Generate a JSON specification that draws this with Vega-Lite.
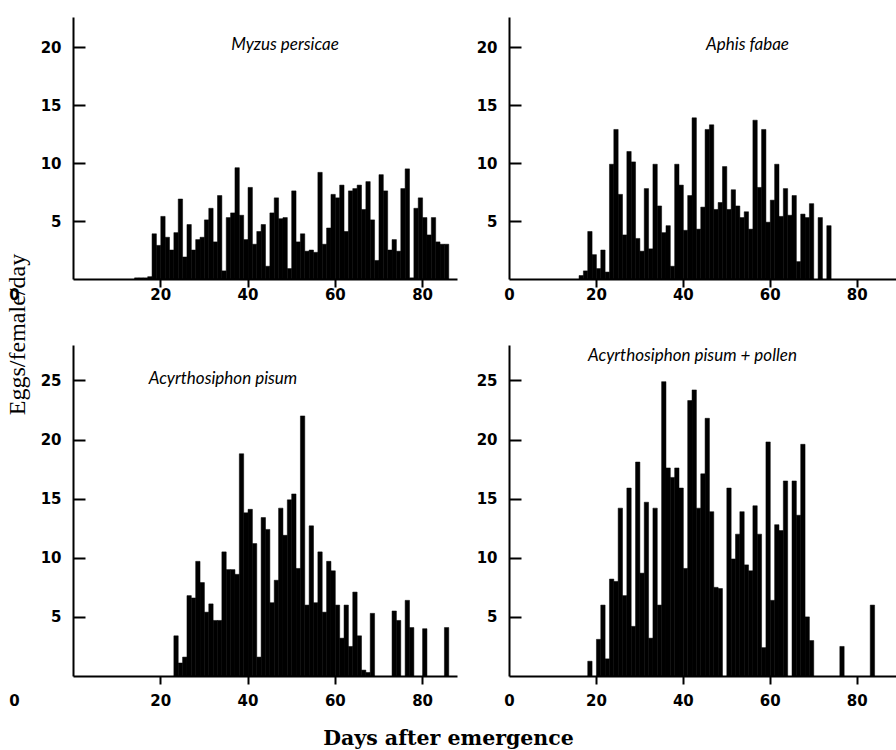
{
  "$schema": "https://vega.github.io/schema/vega-lite/v6.json",
  "padding": {"left": 5, "top": 17, "right": 0, "bottom": 0},
  "background": "white",
  "datasets": {
    "myzus": [
      {"day": 14, "eggs": 0.1}, {"day": 15, "eggs": 0.1}, {"day": 16, "eggs": 0.1}, {"day": 17, "eggs": 0.2},
      {"day": 18, "eggs": 3.9}, {"day": 19, "eggs": 2.9}, {"day": 20, "eggs": 5.4}, {"day": 21, "eggs": 3.6},
      {"day": 22, "eggs": 2.5}, {"day": 23, "eggs": 4.0}, {"day": 24, "eggs": 6.9}, {"day": 25, "eggs": 1.9},
      {"day": 26, "eggs": 4.7}, {"day": 27, "eggs": 2.5}, {"day": 28, "eggs": 3.4}, {"day": 29, "eggs": 3.6},
      {"day": 30, "eggs": 5.1}, {"day": 31, "eggs": 6.1}, {"day": 32, "eggs": 3.2}, {"day": 33, "eggs": 7.2},
      {"day": 34, "eggs": 0.7}, {"day": 35, "eggs": 5.3}, {"day": 36, "eggs": 5.7}, {"day": 37, "eggs": 9.6},
      {"day": 38, "eggs": 5.5}, {"day": 39, "eggs": 3.4}, {"day": 40, "eggs": 7.9}, {"day": 41, "eggs": 3.0},
      {"day": 42, "eggs": 4.1}, {"day": 43, "eggs": 4.7}, {"day": 44, "eggs": 1.1}, {"day": 45, "eggs": 5.7},
      {"day": 46, "eggs": 7.0}, {"day": 47, "eggs": 5.2}, {"day": 48, "eggs": 5.3}, {"day": 49, "eggs": 0.9},
      {"day": 50, "eggs": 7.6}, {"day": 51, "eggs": 3.2}, {"day": 52, "eggs": 3.9}, {"day": 53, "eggs": 2.4},
      {"day": 54, "eggs": 2.5}, {"day": 55, "eggs": 2.3}, {"day": 56, "eggs": 9.2}, {"day": 57, "eggs": 3.0},
      {"day": 58, "eggs": 4.4}, {"day": 59, "eggs": 7.3}, {"day": 60, "eggs": 7.0}, {"day": 61, "eggs": 8.1},
      {"day": 62, "eggs": 4.1}, {"day": 63, "eggs": 7.6}, {"day": 64, "eggs": 7.8}, {"day": 65, "eggs": 8.1},
      {"day": 66, "eggs": 6.0}, {"day": 67, "eggs": 8.4}, {"day": 68, "eggs": 5.1}, {"day": 69, "eggs": 1.6},
      {"day": 70, "eggs": 9.0}, {"day": 71, "eggs": 7.6}, {"day": 72, "eggs": 2.5}, {"day": 73, "eggs": 3.4},
      {"day": 74, "eggs": 2.4}, {"day": 75, "eggs": 7.8}, {"day": 76, "eggs": 9.5}, {"day": 77, "eggs": 0.1},
      {"day": 78, "eggs": 6.1}, {"day": 79, "eggs": 7.0}, {"day": 80, "eggs": 5.3}, {"day": 81, "eggs": 3.8},
      {"day": 82, "eggs": 5.3}, {"day": 83, "eggs": 3.2}, {"day": 84, "eggs": 3.0}, {"day": 85, "eggs": 3.0}
    ],
    "aphis": [
      {"day": 16, "eggs": 0.3}, {"day": 17, "eggs": 0.7}, {"day": 18, "eggs": 4.1}, {"day": 19, "eggs": 2.1},
      {"day": 20, "eggs": 0.9}, {"day": 21, "eggs": 2.5}, {"day": 22, "eggs": 0.6}, {"day": 23, "eggs": 9.9},
      {"day": 24, "eggs": 12.9}, {"day": 25, "eggs": 7.3}, {"day": 26, "eggs": 3.8}, {"day": 27, "eggs": 11.0},
      {"day": 28, "eggs": 10.1}, {"day": 29, "eggs": 3.5}, {"day": 30, "eggs": 2.4}, {"day": 31, "eggs": 7.8},
      {"day": 32, "eggs": 2.6}, {"day": 33, "eggs": 9.9}, {"day": 34, "eggs": 6.3}, {"day": 35, "eggs": 4.0},
      {"day": 36, "eggs": 4.6}, {"day": 37, "eggs": 1.1}, {"day": 38, "eggs": 9.9}, {"day": 39, "eggs": 8.1},
      {"day": 40, "eggs": 4.2}, {"day": 41, "eggs": 7.2}, {"day": 42, "eggs": 13.9}, {"day": 43, "eggs": 4.3},
      {"day": 44, "eggs": 6.2}, {"day": 45, "eggs": 12.9}, {"day": 46, "eggs": 13.3}, {"day": 47, "eggs": 6.0},
      {"day": 48, "eggs": 6.6}, {"day": 49, "eggs": 9.7}, {"day": 50, "eggs": 6.0}, {"day": 51, "eggs": 7.7},
      {"day": 52, "eggs": 6.3}, {"day": 53, "eggs": 5.3}, {"day": 54, "eggs": 5.8}, {"day": 55, "eggs": 4.3},
      {"day": 56, "eggs": 13.7}, {"day": 57, "eggs": 7.9}, {"day": 58, "eggs": 12.9}, {"day": 59, "eggs": 4.9},
      {"day": 60, "eggs": 6.8}, {"day": 61, "eggs": 9.9}, {"day": 62, "eggs": 5.4}, {"day": 63, "eggs": 7.8},
      {"day": 64, "eggs": 5.5}, {"day": 65, "eggs": 7.2}, {"day": 66, "eggs": 1.5}, {"day": 67, "eggs": 5.6},
      {"day": 68, "eggs": 5.3}, {"day": 69, "eggs": 6.5}, {"day": 71, "eggs": 5.3}, {"day": 73, "eggs": 4.6}
    ],
    "pisum": [
      {"day": 23, "eggs": 3.4}, {"day": 24, "eggs": 1.1}, {"day": 25, "eggs": 1.6}, {"day": 26, "eggs": 6.8},
      {"day": 27, "eggs": 6.6}, {"day": 28, "eggs": 9.7}, {"day": 29, "eggs": 7.9}, {"day": 30, "eggs": 5.4},
      {"day": 31, "eggs": 6.1}, {"day": 32, "eggs": 4.7}, {"day": 33, "eggs": 4.7}, {"day": 34, "eggs": 10.5},
      {"day": 35, "eggs": 9.0}, {"day": 36, "eggs": 9.0}, {"day": 37, "eggs": 8.6}, {"day": 38, "eggs": 18.8},
      {"day": 39, "eggs": 13.8}, {"day": 40, "eggs": 14.1}, {"day": 41, "eggs": 11.2}, {"day": 42, "eggs": 1.6},
      {"day": 43, "eggs": 13.4}, {"day": 44, "eggs": 12.4}, {"day": 45, "eggs": 6.2}, {"day": 46, "eggs": 8.1},
      {"day": 47, "eggs": 14.2}, {"day": 48, "eggs": 11.9}, {"day": 49, "eggs": 14.9}, {"day": 50, "eggs": 15.4},
      {"day": 51, "eggs": 9.1}, {"day": 52, "eggs": 22.0}, {"day": 53, "eggs": 6.0}, {"day": 54, "eggs": 12.7},
      {"day": 55, "eggs": 6.2}, {"day": 56, "eggs": 10.5}, {"day": 57, "eggs": 5.4}, {"day": 58, "eggs": 9.7},
      {"day": 59, "eggs": 8.9}, {"day": 60, "eggs": 6.0}, {"day": 61, "eggs": 3.2}, {"day": 62, "eggs": 6.0},
      {"day": 63, "eggs": 2.5}, {"day": 64, "eggs": 7.1}, {"day": 65, "eggs": 3.4}, {"day": 66, "eggs": 0.5},
      {"day": 67, "eggs": 0.3}, {"day": 68, "eggs": 5.3}, {"day": 73, "eggs": 5.5}, {"day": 74, "eggs": 4.7},
      {"day": 76, "eggs": 6.4}, {"day": 77, "eggs": 4.1}, {"day": 80, "eggs": 4.0}, {"day": 85, "eggs": 4.1}
    ],
    "pollen": [
      {"day": 18, "eggs": 1.25}, {"day": 20, "eggs": 3.1}, {"day": 21, "eggs": 6.0}, {"day": 22, "eggs": 1.45},
      {"day": 23, "eggs": 8.2}, {"day": 24, "eggs": 8.0}, {"day": 25, "eggs": 14.2}, {"day": 26, "eggs": 6.8},
      {"day": 27, "eggs": 15.9}, {"day": 28, "eggs": 4.2}, {"day": 29, "eggs": 18.1}, {"day": 30, "eggs": 8.7},
      {"day": 31, "eggs": 14.7}, {"day": 32, "eggs": 3.2}, {"day": 33, "eggs": 14.2}, {"day": 34, "eggs": 6.0},
      {"day": 35, "eggs": 24.9}, {"day": 36, "eggs": 17.6}, {"day": 37, "eggs": 16.8}, {"day": 38, "eggs": 17.6},
      {"day": 39, "eggs": 15.9}, {"day": 40, "eggs": 9.1}, {"day": 41, "eggs": 23.3}, {"day": 42, "eggs": 24.2},
      {"day": 43, "eggs": 14.2}, {"day": 44, "eggs": 17.1}, {"day": 45, "eggs": 21.8}, {"day": 46, "eggs": 13.9},
      {"day": 47, "eggs": 7.5}, {"day": 48, "eggs": 7.4}, {"day": 50, "eggs": 15.9}, {"day": 51, "eggs": 9.9},
      {"day": 52, "eggs": 12.0}, {"day": 53, "eggs": 13.9}, {"day": 54, "eggs": 9.4}, {"day": 55, "eggs": 8.9},
      {"day": 56, "eggs": 14.4}, {"day": 57, "eggs": 12.0}, {"day": 58, "eggs": 2.4}, {"day": 59, "eggs": 19.8},
      {"day": 60, "eggs": 6.4}, {"day": 61, "eggs": 12.8}, {"day": 62, "eggs": 12.3}, {"day": 63, "eggs": 16.5},
      {"day": 65, "eggs": 16.5}, {"day": 66, "eggs": 13.6}, {"day": 67, "eggs": 19.6}, {"day": 68, "eggs": 5.0},
      {"day": 69, "eggs": 3.0}, {"day": 76, "eggs": 2.5}, {"day": 83, "eggs": 6.0}
    ]
  },
  "title": {
    "text": "Days after emergence",
    "orient": "bottom",
    "anchor": "middle",
    "font": "DejaVu Serif",
    "fontSize": 20.5,
    "fontWeight": "bold",
    "fontStyle": "normal",
    "color": "black",
    "baseline": "top",
    "offset": 21,
    "dx": -3
  },
  "bounds": "flush",
  "columns": 2,
  "spacing": {"row": 66, "column": 52},
  "concat": [
    {
      "data": {"name": "myzus"},
      "width": 384,
      "height": 262,
      "title": {"text": "Myzus persicae", "dx": 20, "offset": -37},
      "mark": {"type": "bar", "color": "black", "stroke": "black", "strokeWidth": 0.5, "binSpacing": 0},
      "encoding": {
        "x": {"field": "day", "type": "quantitative", "bin": {"binned": true, "step": 1},
              "scale": {"domain": [0, 88], "nice": false},
              "axis": {"values": [0, 20, 40, 60, 80], "title": null,
                       "labelOffset": {"condition": {"test": "datum.value === 0", "value": -59}, "value": 0},
                       "tickOpacity": {"condition": {"test": "datum.value === 0", "value": 0}, "value": 1}}},
        "y": {"field": "eggs", "type": "quantitative",
              "scale": {"domain": [0, 22.6], "nice": false},
              "axis": {"values": [5, 10, 15, 20], "title": "Eggs/female/day",
                       "titleX": -56, "titleY": 317, "titleAngle": -90, "titleAlign": "center", "titleBaseline": "middle",
                       "titleFont": "Liberation Serif", "titleFontSize": 24, "titleFontWeight": "normal", "titleColor": "black"}}
      }
    },
    {
      "data": {"name": "aphis"},
      "width": 389,
      "height": 262,
      "title": {"text": "Aphis fabae", "dx": 44, "offset": -37},
      "mark": {"type": "bar", "color": "black", "stroke": "black", "strokeWidth": 0.5, "binSpacing": 0},
      "encoding": {
        "x": {"field": "day", "type": "quantitative", "bin": {"binned": true, "step": 1},
              "scale": {"domain": [0, 89.5], "nice": false},
              "axis": {"values": [0, 20, 40, 60, 80], "title": null,
                       "tickOpacity": {"condition": {"test": "datum.value === 0", "value": 0}, "value": 1}}},
        "y": {"field": "eggs", "type": "quantitative",
              "scale": {"domain": [0, 22.6], "nice": false},
              "axis": {"values": [5, 10, 15, 20], "title": null}}
      }
    },
    {
      "data": {"name": "pisum"},
      "width": 384,
      "height": 331,
      "title": {"text": "Acyrthosiphon pisum", "dx": -42, "offset": -43},
      "mark": {"type": "bar", "color": "black", "stroke": "black", "strokeWidth": 0.5, "binSpacing": 0},
      "encoding": {
        "x": {"field": "day", "type": "quantitative", "bin": {"binned": true, "step": 1},
              "scale": {"domain": [0, 88], "nice": false},
              "axis": {"values": [0, 20, 40, 60, 80], "title": null, "labelPadding": 9,
                       "labelOffset": {"condition": {"test": "datum.value === 0", "value": -59}, "value": 0},
                       "tickOpacity": {"condition": {"test": "datum.value === 0", "value": 0}, "value": 1}}},
        "y": {"field": "eggs", "type": "quantitative",
              "scale": {"domain": [0, 28], "nice": false},
              "axis": {"values": [5, 10, 15, 20, 25], "title": null}}
      }
    },
    {
      "data": {"name": "pollen"},
      "width": 389,
      "height": 331,
      "title": {"text": "Acyrthosiphon pisum + pollen", "dx": -11, "offset": -20},
      "mark": {"type": "bar", "color": "black", "stroke": "black", "strokeWidth": 0.5, "binSpacing": 0},
      "encoding": {
        "x": {"field": "day", "type": "quantitative", "bin": {"binned": true, "step": 1},
              "scale": {"domain": [0, 89.5], "nice": false},
              "axis": {"values": [0, 20, 40, 60, 80], "title": null, "labelPadding": 9,
                       "tickOpacity": {"condition": {"test": "datum.value === 0", "value": 0}, "value": 1}}},
        "y": {"field": "eggs", "type": "quantitative",
              "scale": {"domain": [0, 28], "nice": false},
              "axis": {"values": [5, 10, 15, 20, 25], "title": null}}
      }
    }
  ],
  "config": {
    "view": {"stroke": null},
    "title": {"font": "Lato", "fontSize": 17, "fontStyle": "italic", "fontWeight": "normal", "color": "black", "anchor": "middle", "baseline": "bottom"},
    "axis": {
      "domainColor": "black", "domainWidth": 2, "tickColor": "black", "tickWidth": 2,
      "labelColor": "black", "labelFont": "DejaVu Sans", "labelFontSize": 15, "labelFontWeight": "bold",
      "grid": false, "labelFlush": false, "labelOverlap": false
    },
    "axisX": {"tickSize": 8, "labelPadding": 0},
    "axisY": {"tickSize": -12, "labelPadding": 24}
  }
}
